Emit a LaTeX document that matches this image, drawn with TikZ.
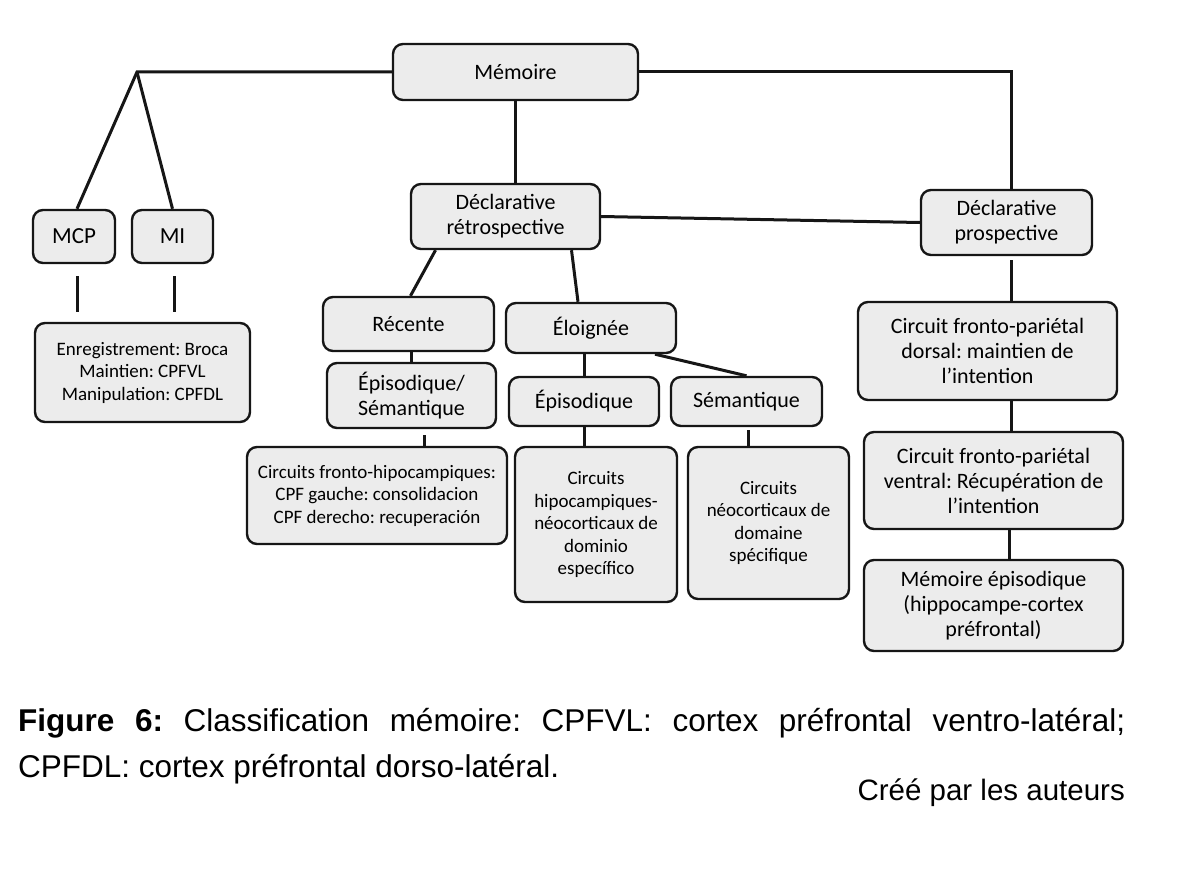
\documentclass[tikz,border=0pt]{standalone}
\usepackage{fontspec}
\setmainfont{Carlito}
\newfontfamily\capfont{Liberation Sans}
\frenchspacing
\definecolor{boxfill}{RGB}{236,236,236}
\definecolor{ink}{RGB}{22,22,22}
\tikzstyle{box}=[draw=ink, fill=boxfill, line width=2.4pt, rounded corners=10pt,
    align=center, inner sep=2pt, font=\fontsize{22}{25}\selectfont]
\tikzstyle{small}=[font=\fontsize{19}{22.5}\selectfont]
\tikzstyle{link}=[draw=ink, line width=3pt]

\begin{document}
\begin{tikzpicture}[x=1pt,y=-1pt]
    \useasboundingbox (0,0) rectangle (1202,880);

    \node[box, minimum width=245pt, minimum height=56pt] (memoire) at ( 515.5, 72) {Mémoire};

    \node[box, minimum width=82pt,  minimum height=53pt, font=\fontsize{23}{26}\selectfont] (mcp) at (  74,236.5) {MCP};
    \node[box, minimum width=81pt,  minimum height=53pt, font=\fontsize{23}{26}\selectfont] (mi)  at (172.5,236.5) {MI};
    \node[box, small, minimum width=215pt, minimum height=99pt] (enreg) at (142.5,372.5)
        {Enregistrement: Broca\\Maintien: CPFVL\\Manipulation: CPFDL};

    \node[box, minimum width=189pt, minimum height=65pt] (retro) at ( 505.5,216.5) {Déclarative\\rétrospective};
    \node[box, minimum width=171pt, minimum height=65pt] (prosp) at (1006.5,222.5) {Déclarative\\prospective};

    \node[box, minimum width=171pt, minimum height=54pt] (recente) at (408.5,324)   {Récente};
    \node[box, minimum width=169pt, minimum height=65pt] (epsem)   at (411.5,395.5) {Épisodique/\\Sémantique};
    \node[box, small, minimum width=260pt, minimum height=97pt] (frontohipo) at (377,495.5)
        {Circuits fronto-hipocampiques:\\CPF gauche: consolidacion\\CPF derecho: recuperación};

    \node[box, minimum width=170pt, minimum height=50pt] (eloignee) at (591,328)     {Éloignée};
    \node[box, minimum width=150pt, minimum height=49pt] (episod)   at (584,401.5)   {Épisodique};
    \node[box, minimum width=151pt, minimum height=49pt] (semant)   at (746.5,401.5) {Sémantique};
    \node[box, small, minimum width=162pt, minimum height=155pt] (hipo) at (596,524.5)
        {Circuits\\hipocampiques-\\néocorticaux de\\dominio\\específico};
    \node[box, small, minimum width=161pt, minimum height=152pt] (neocort) at (768.5,523)
        {Circuits\\néocorticaux de\\domaine\\spécifique};

    \node[box, minimum width=259pt, minimum height=98pt] (dorsal)  at (987.5,351)   {Circuit fronto-pariétal\\dorsal: maintien de\\l’intention};
    \node[box, minimum width=259pt, minimum height=97pt] (ventral) at (993.5,480.5) {Circuit fronto-pariétal\\ventral: Récupération de\\l’intention};
    \node[box, minimum width=259pt, minimum height=91pt] (memepi)  at (993.5,605.5) {Mémoire épisodique\\(hippocampe-cortex\\préfrontal)};

    \coordinate (fork) at (137,72);
    \path[link] (memoire.west) -- (fork) -- ([xshift=3pt]mcp.north);
    \path[link] (fork) -- (mi.north);
    \path[link, shorten <=12pt, shorten >=10pt] ([xshift=3pt]mcp.south) -- ([xshift=3pt]mcp.south |- enreg.north);
    \path[link, shorten <=12pt, shorten >=10pt] ([xshift=2pt]mi.south)  -- ([xshift=2pt]mi.south |- enreg.north);

    \path[link] (memoire.south) -- (memoire.south |- retro.north);
    \path[link] (memoire.east)  -| ([xshift=5pt]prosp.north);
    \path[link] (retro.east)    -- (prosp.west);

    \path[link] ([xshift=-70pt]retro.south) -- ([xshift=2pt]recente.north);
    \path[link] ([xshift=66pt]retro.south)  -- ([xshift=-13pt]eloignee.north);
    \path[link] (epsem.north |- recente.south) -- (epsem.north);
    \path[link, shorten <=6pt] ([xshift=13pt]epsem.south) -- ([xshift=13pt]epsem.south |- frontohipo.north);

    \path[link] (episod.north |- eloignee.south) -- (episod.north);
    \path[link] ([xshift=64pt]eloignee.south) -- (semant.north);
    \path[link] (episod.south) -- (episod.south |- hipo.north);
    \path[link, shorten <=3pt] ([xshift=2pt]semant.south) -- ([xshift=2pt]semant.south |- neocort.north);

    \path[link, shorten <=4pt] ([xshift=5pt]prosp.south) -- ([xshift=5pt]prosp.south |- dorsal.north);
    \path[link] ([xshift=24pt]dorsal.south)  -- ([xshift=24pt]dorsal.south |- ventral.north);
    \path[link] ([xshift=16pt]ventral.south) -- ([xshift=16pt]ventral.south |- memepi.north);

    \node[anchor=base west, inner sep=0, font=\capfont\fontsize{31.5}{46}\selectfont] (caption1) at (18,731)
        {\makebox[1107pt][s]{\textbf{Figure 6:} Classification mémoire: CPFVL: cortex préfrontal ventro-latéral;}};
    \node[anchor=base west, inner sep=0, font=\capfont\fontsize{31.5}{46}\selectfont] (caption2) at (18,777)
        {CPFDL: cortex préfrontal dorso-latéral.};
    \node[anchor=base east, inner sep=0, font=\capfont\fontsize{29.5}{40}\selectfont] (credit) at (1125,800)
        {Créé par les auteurs};
\end{tikzpicture}
\end{document}
